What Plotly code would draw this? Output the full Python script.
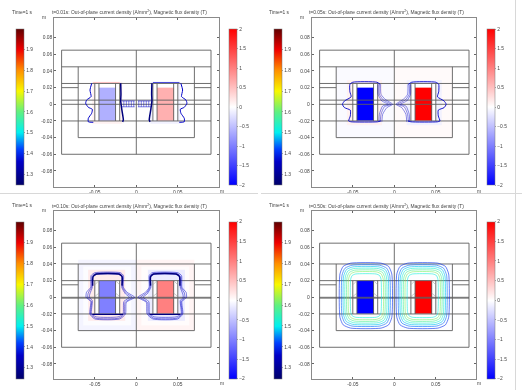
import plotly.graph_objects as go
from plotly.colors import sample_colorscale

# ---------- data ----------
panel_times = ["0.01", "0.05", "0.10", "0.50"]
coil_J = [-0.62, -2.0, -1.0, -2.0]

y_tick_vals = [0.08, 0.06, 0.04, 0.02, 0, -0.02, -0.04, -0.06, -0.08]
y_tick_text = ["0.08", "0.06", "0.04", "0.02", "0", "-0.02", "-0.04", "-0.06", "-0.08"]
x_tick_vals = [-0.05, 0, 0.05]
x_tick_text = ["-0.05", "0", "0.05"]

B_ticks = [1.3, 1.4, 1.5, 1.6, 1.7, 1.8, 1.9]
J_ticks = [-2, -1.5, -1, -0.5, 0, 0.5, 1, 1.5, 2]
B_range = [1.247, 2.0]
J_range = [-2, 2]
B_stops = [1.247, 1.36, 1.42, 1.5, 1.6, 1.7, 1.8, 1.9, 2.0]
B_stop_colors = ["#00006a", "#0000c8", "#0040ff", "#00f0f0", "#60f080", "#f8f800", "#ff9000", "#f00000", "#600000"]

# geometry: horizontal [y, x0, x1], vertical [x, y0, y1]
h_open = [[0.065, -.09, .09], [-0.06, -.09, .09], [0.045, -.09, .09], [0.025, -.09, .09],
          [0.02, -.09, -.07], [0.02, .07, .09], [0.005, -.09, .09], [0, -.09, .09],
          [-0.02, -.09, .09], [-0.04, -.07, .07]]
v_open = [[-.09, -.06, .065], [.09, -.06, .065], [0, -.06, .065], [-.07, -.04, .045], [.07, -.04, .045],
          [-.05, -.02, .025], [-.045, -.02, .025], [-.025, -.02, .025], [-.02, -.02, .025],
          [.05, -.02, .025], [.045, -.02, .025], [.025, -.02, .025], [.02, -.02, .025]]
h_closed = [[0.065, -.09, .09], [-0.06, -.09, .09], [0.04, -.09, .09], [0.02, -.09, .09],
            [0.015, -.09, -.07], [0.015, .07, .09], [0, -.09, .09], [-0.001, -.09, .09],
            [-0.02, -.09, .09], [-0.04, -.07, .07]]
v_closed = [[-.09, -.06, .065], [.09, -.06, .065], [0, -.06, .065], [-.07, -.04, .04], [.07, -.04, .04],
            [-.05, -.02, .02], [-.045, -.02, .02], [-.025, -.02, .02], [-.02, -.02, .02],
            [.05, -.02, .02], [.045, -.02, .02], [.025, -.02, .02], [.02, -.02, .02]]
chamfer_x = [-.05, -.045, None, -.02, -.025, None, -.05, -.045, None, -.02, -.025]
chamfer_y = [.015, .02, None, .015, .02, None, .001, .005, None, .001, .005]

# surface tint on the left half [x0, x1, y0, y1, J]; right half has opposite sign
tint_1 = [[-.053, -.017, -.024, .027, .10], [-.05, -.02, -.02, .025, 0]]
tint_2 = [[-.07, 0, -.04, .045, -.04], [-.057, -.015, -.025, .029, .10], [-.05, -.02, -.02, .025, 0]]
tint_3 = [[-.07, 0, -.04, .045, -.09], [-.064, -.006, -.034, .037, -.02],
          [-.058, -.014, -.028, .033, .16], [-.05, -.02, -.02, .02, 0]]
tint_4 = [[-.07, 0, -.04, .04, .015], [-.05, -.02, -.02, .02, 0]]

# flux contours, left half (mirrored on the right)
c1_thin_x = [-.0537, -.0558, -.0545, -.0598, -.061, -.0578, -.053, -.0538, -.0578, -.0578, -.0518]
c1_thin_y = [.0252, .0172, .0092, .0052, .0012, -.0036, -.006, -.0108, -.0168, -.021, -.0216]
c1_thick_x = [-.0188, -.0185, -.0188, -.0175, -.0156, -.0165]
c1_thick_y = [.0252, .012, .004, -.006, -.0188, -.021]
c1_prong_x = [-.0175, -.002, None, -.0175, -.002]
c1_prong_y = [.004, .004, None, -.003, -.003]
c1_bead_x = [-.015, -.015, None, -.012, -.012, None, -.009, -.009, None, -.006, -.006, None, -.003, -.003]
c1_bead_y = [.004, -.003, None, .004, -.003, None, .004, -.003, None, .004, -.003, None, .004, -.003]
c1_top_x = [-.052, -.02]
c1_top_y = [.0262, .0262]

c2_outer_x = [-.017, -.021, -.05, -.0535, -.0535, -.052, -.06, -.0625, -.06, -.053, -.053, -.055, -.052, -.02, -.0165]
c2_outer_y = [.024, .0265, .0265, .024, .015, .009, .004, 0, -.004, -.007, -.014, -.02, -.021, -.021, -.02]
c2_fan_a_x = [-.0165, -.016, -.011, -.002, -.009, -.014, -.015]
c2_fan_a_y = [.024, .012, .006, 0, -.004, -.012, -.021]
c2_fan_b_x = [-.018, -.018, -.013, -.004, -.012, -.016, -.017]
c2_fan_b_y = [.024, .012, .005, 0, -.003, -.012, -.021]
c2_fan_c_x = [-.0195, -.0195, -.015, -.007, -.014, -.018, -.0185]
c2_fan_c_y = [.024, .012, .004, 0, -.002, -.012, -.021]

c3_a_x = [-.002, -.011, -.0155, -.0155, -.019, -.05, -.0545, -.055, -.060, -.0605, -.055, -.056, -.05, -.02, -.013, -.012, -.002]
c3_a_y = [0, .006, .012, .026, .0295, .0295, .026, .012, .006, 0, -.005, -.02, -.026, -.026, -.02, -.006, 0]
c3_b_x = [-.005, -.012, -.0165, -.0165, -.02, -.049, -.0535, -.054, -.058, -.0585, -.054, -.055, -.049, -.021, -.0145, -.0135, -.005]
c3_b_y = [0, .005, .012, .025, .0285, .0285, .025, .012, .005, 0, -.005, -.02, -.025, -.025, -.02, -.006, 0]
c3_c_x = [-.008, -.013, -.0175, -.0175, -.021, -.048, -.0525, -.053, -.056, -.0565, -.053, -.054, -.048, -.022, -.016, -.015, -.008]
c3_c_y = [0, .004, .012, .0245, .0275, .0275, .0245, .012, .004, 0, -.004, -.02, -.0235, -.0235, -.02, -.005, 0]
c3_thick_x = [-.0172, -.0172, -.021, -.048, -.052, -.0525]
c3_thick_y = [.014, .025, .028, .028, .025, .014]
c3_bottom_x = [-.053, -.016]
c3_bottom_y = [-.0205, -.0205]

# closed-state loops: left, right, bottom, top, corner, B
c4_loops = [[-.0655, -.003, -.037, .041, .013, 1.40],
            [-.063, -.0055, -.0345, .0385, .012, 1.44],
            [-.061, -.0075, -.0325, .0365, .011, 1.48],
            [-.059, -.0095, -.0305, .0345, .010, 1.53],
            [-.057, -.0115, -.0285, .0325, .009, 1.58],
            [-.055, -.0135, -.0265, .0305, .008, 1.62],
            [-.0525, -.016, -.024, .028, .006, 1.52]]

# ---------- layout constants (pixels of the 522x390 page) ----------
W, H = 522, 390
boxes = [(54.3, 219.0, 17.7, 186.7, 136.3, 104.3), (311.7, 476.3, 17.7, 186.7, 394.3, 104.3),
         (54.3, 219.0, 210.7, 379.3, 136.3, 297.3), (311.7, 476.3, 210.7, 379.3, 394.3, 297.3)]
bars = [(16, 228.7, 29, 185), (274, 486.7, 29, 185), (16, 228.7, 221.7, 378.3), (274, 486.7, 221.7, 378.3)]
time_x = [10, 267, 10, 267]
title_y = [12.5, 12.5, 205.5, 205.5]
title_x = [129, 386, 129, 386]
SX, SY = 830.0, 833.0
GRAY = "#5f5f5f"
TXT = "#444444"
FS = 4.9
FONT = "Liberation Sans"

J_scale = [[0, "#0000ff"], [0.5, "#ffffff"], [1, "#ff0000"]]
B_scale = [[(v - B_range[0]) / (B_range[1] - B_range[0]), c] for v, c in zip(B_stops, B_stop_colors)]


def b_color(v):
    return sample_colorscale(B_scale, (v - B_range[0]) / (B_range[1] - B_range[0]))[0]


fig = go.Figure()


def segs_h(rows):
    xs, ys = [], []
    for y, x0, x1 in rows:
        xs += [x0, x1, None]
        ys += [y, y, None]
    return xs, ys


def segs_v(rows):
    xs, ys = [], []
    for x, y0, y1 in rows:
        xs += [x, x, None]
        ys += [y0, y1, None]
    return xs, ys


def mirror(vals):
    return [None if v is None else -v for v in vals]


layout = dict(width=W, height=H, margin=dict(l=0, r=0, t=0, b=0), showlegend=False,
              plot_bgcolor="white", paper_bgcolor="white", font=dict(family=FONT, size=FS, color=TXT))
annotations = []
tints = [tint_1, tint_2, tint_3, tint_4]


def line(i, x, y, width, color, spline=False, both=True):
    xa, ya = f"x{i}", f"y{i}"
    ldict = dict(color=color, width=width)
    if spline:
        ldict.update(shape="spline", smoothing=0.55)
    kw = dict(mode="lines", hoverinfo="skip", xaxis=xa, yaxis=ya, line=ldict)
    fig.add_trace(go.Scatter(x=x, y=y, **kw))
    if both:
        fig.add_trace(go.Scatter(x=mirror(x), y=y, **kw))


for k in range(4):
    i = k + 1
    x0, x1, y0, y1, xz, yz = boxes[k]
    ja, ba = f"coloraxis{2 * k + 1}", f"coloraxis{2 * k + 2}"

    # tint and coil surfaces share the current-density colour axis
    for sign in (1, -1):
        for a, b, c, d, j in tints[k]:
            xs = [a, b] if sign == 1 else [-b, -a]
            fig.add_trace(go.Heatmap(x=xs, y=[c, d], z=[[sign * j]], coloraxis=ja, xaxis=f"x{i}", yaxis=f"y{i}", hoverinfo="skip"))
    for sign in (1, -1):
        xs = [-.045, -.025] if sign == 1 else [.025, .045]
        top = .02
        fig.add_trace(go.Heatmap(x=xs, y=[-.02, top], z=[[sign * coil_J[k]]], coloraxis=ja, xaxis=f"x{i}", yaxis=f"y{i}", hoverinfo="skip"))

    # geometry
    hs, vs = (h_open, v_open) if k < 2 else (h_closed, v_closed)
    gx, gy = segs_h(hs)
    vx, vy = segs_v(vs)
    line(i, gx + vx, gy + vy, 0.9, GRAY, both=False)
    if k >= 2:
        line(i, chamfer_x, chamfer_y, 0.5, "#999999")

    # flux density contours
    blue, navy = b_color(1.36), b_color(1.27)
    if k == 0:
        line(i, c1_thin_x, c1_thin_y, 1.0, blue, True)
        line(i, c1_thick_x, c1_thick_y, 1.5, navy, True)
        line(i, c1_prong_x, c1_prong_y, 0.5, blue)
        line(i, c1_bead_x, c1_bead_y, 0.5, blue)
        line(i, c1_top_x, c1_top_y, 0.5, "#ff9090", both=False)
        line(i, mirror(c1_top_x), c1_top_y, 0.7, blue, both=False)
    if k == 1:
        line(i, c2_outer_x, c2_outer_y, 0.9, blue, True)
        for fx, fy in [(c2_fan_a_x, c2_fan_a_y), (c2_fan_b_x, c2_fan_b_y), (c2_fan_c_x, c2_fan_c_y)]:
            line(i, fx, fy, 0.45, blue, True)
    if k == 2:
        for fx, fy in [(c3_a_x, c3_a_y), (c3_b_x, c3_b_y), (c3_c_x, c3_c_y)]:
            line(i, fx, fy, 0.5, blue, True)
        line(i, c3_thick_x, c3_thick_y, 1.5, navy, True)
        line(i, c3_bottom_x, c3_bottom_y, 1.3, navy)
    if k == 3:
        for l, r, b, t, c, v in c4_loops:
            e = 0.3 * c
            px = [l + c, r - c, r - e, r, r, r - e, r - c, l + c, l + e, l, l, l + e, l + c]
            py = [t, t, t - e, t - c, b + c, b + e, b, b, b + e, b + c, t - c, t - e, t]
            line(i, px, py, 0.6, b_color(v), True)

    # invisible point that ties the magnetic-flux colour axis to this panel
    fig.add_trace(go.Scatter(x=[0], y=[0], mode="markers", xaxis=f"x{i}", yaxis=f"y{i}", hoverinfo="skip",
                             marker=dict(size=1, opacity=0, color=[1.5], coloraxis=ba)))

    # axes
    xkey = "xaxis" if i == 1 else f"xaxis{i}"
    ykey = "yaxis" if i == 1 else f"yaxis{i}"
    axis_common = dict(showgrid=False, zeroline=False, ticks="inside", ticklen=2, tickwidth=0.6, tickcolor="#666666",
                       showline=True, linecolor="#8a8a8a", linewidth=1, mirror="ticks",
                       tickfont=dict(size=FS, color=TXT, family=FONT))
    layout[xkey] = dict(domain=[x0 / W, x1 / W], range=[(x0 - xz) / SX, (x1 - xz) / SX], anchor=f"y{i}",
                        tickvals=x_tick_vals, ticktext=x_tick_text, **axis_common)
    layout[ykey] = dict(domain=[1 - y1 / H, 1 - y0 / H], range=[(yz - y1) / SY, (yz - y0) / SY], anchor=f"x{i}",
                        tickvals=y_tick_vals, ticktext=y_tick_text, **axis_common)

    # colour bars
    lx, rx, by0, by1 = bars[k]
    cb_common = dict(thicknessmode="pixels", thickness=7.5, lenmode="fraction", len=(by1 - by0) / H,
                     xanchor="left", yanchor="top", y=1 - by0 / H, xpad=0, ypad=0,
                     ticks="outside", ticklen=1.5, tickwidth=0.5, tickcolor="#aaaaaa",
                     outlinewidth=0.5, outlinecolor="#777777", tickfont=dict(size=FS, color=TXT, family=FONT))
    layout[ja] = dict(colorscale=J_scale, cmin=J_range[0], cmax=J_range[1],
                      colorbar=dict(x=rx / W, tickvals=J_ticks, **cb_common))
    layout[ba] = dict(colorscale=B_scale, cmin=B_range[0], cmax=B_range[1],
                      colorbar=dict(x=lx / W, tickvals=B_ticks, **cb_common))

    # texts
    annotations.append(dict(text="Time=1 s", xref="paper", yref="paper", x=time_x[k] / W, y=1 - title_y[k] / H,
                            xanchor="left", yanchor="middle", showarrow=False, font=dict(size=FS, color=TXT)))
    annotations.append(dict(text=f"t={panel_times[k]}s: Out-of-plane current density (A/mm<sup>2</sup>), Magnetic flux density (T)",
                            xref="paper", yref="paper", x=title_x[k] / W, y=1 - title_y[k] / H,
                            xanchor="center", yanchor="middle", showarrow=False, font=dict(size=FS, color=TXT)))
    annotations.append(dict(text="m", xref="paper", yref="paper", x=(x0 - 14) / W, y=1 - (y0 - 0.5) / H,
                            xanchor="left", yanchor="middle", showarrow=False, font=dict(size=FS, color=TXT)))
    annotations.append(dict(text="m", xref="paper", yref="paper", x=(x1 - 1) / W, y=1 - (y1 + 4.5) / H,
                            xanchor="left", yanchor="middle", showarrow=False, font=dict(size=FS, color=TXT)))

layout["annotations"] = annotations
sep = dict(color="#d8d8d8", width=1)
layout["shapes"] = [dict(type="line", xref="paper", yref="paper", x0=0, x1=258 / W, y0=1 - 193.5 / H, y1=1 - 193.5 / H, line=sep),
                    dict(type="line", xref="paper", yref="paper", x0=261 / W, x1=1, y0=1 - 193.5 / H, y1=1 - 193.5 / H, line=sep),
                    dict(type="line", xref="paper", yref="paper", x0=515.5 / W, x1=515.5 / W, y0=0, y1=1, line=sep)]
fig.update_layout(**layout)
fig.write_html("out.html", config={"displayModeBar": False},
               post_script="document.body.style.margin='0';document.body.style.overflow='hidden';"
                           "document.querySelector('.plotly-graph-div').style.filter='blur(0.7px)';")
